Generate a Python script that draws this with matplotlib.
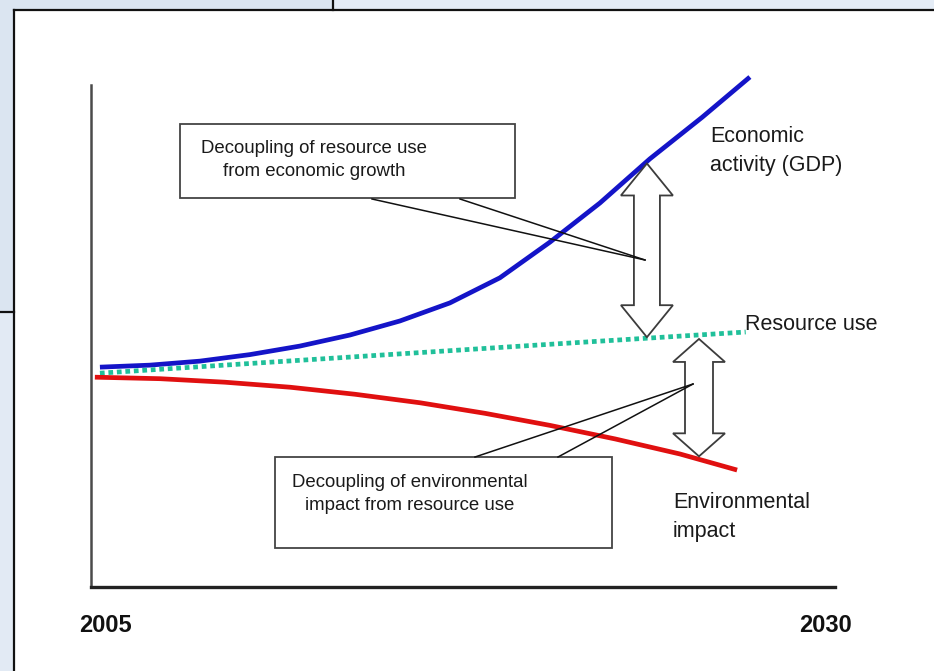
import numpy as np
import matplotlib
matplotlib.use("Agg")
import matplotlib.pyplot as plt
from matplotlib.patches import Rectangle, Polygon
from matplotlib.lines import Line2D

# ---------------- data ----------------
gdp_years = [2005.30, 2006.98, 2008.66, 2010.34, 2012.02, 2013.70, 2015.38,
             2017.06, 2018.74, 2020.42, 2022.10, 2023.78, 2025.54, 2027.14]
gdp_values = [43.8, 44.2, 45.0, 46.3, 48.0, 50.2, 53.0,
              56.6, 61.6, 68.7, 76.5, 85.3, 93.6, 101.6]

res_years = [2005.3, 2010, 2015, 2020, 2027]
res_values = [42.6, 44.4, 46.3, 48.2, 50.8]

env_years = [2005.13, 2007.32, 2009.50, 2011.69, 2013.87, 2016.06,
             2018.24, 2020.42, 2022.61, 2024.79, 2026.71]
env_values = [41.8, 41.5, 40.8, 39.8, 38.4, 36.7,
              34.6, 32.2, 29.5, 26.5, 23.3]

x_tick_labels = ["2005", "2030"]
arrow_years = [2023.68, 2025.43]

series_labels = ["Economic\nactivity (GDP)", "Resource use", "Environmental\nimpact"]
callout_texts = ["Decoupling of resource use\nfrom economic growth",
                 "Decoupling of environmental\nimpact from resource use"]

# ---------------- figure ----------------
W, H = 934, 671
fig = plt.figure(figsize=(W / 100, H / 100), dpi=100)
fig.patch.set_facecolor("white")

def fx(x):
    return x / W

def fy(y):
    return 1 - y / H

FONT = ["Liberation Sans", "DejaVu Sans"]

# frame decorations
fig.add_artist(Rectangle((0, fy(H)), fx(14), fy(312) - fy(H), transform=fig.transFigure,
                         facecolor="#e2eaf4", edgecolor="none", zorder=0))
fig.add_artist(Rectangle((0, fy(312)), fx(14), 1 - fy(312), transform=fig.transFigure,
                         facecolor="#dbe5f1", edgecolor="none", zorder=0))
fig.add_artist(Rectangle((0, fy(10)), fx(333), 1 - fy(10), transform=fig.transFigure,
                         facecolor="#dbe5f1", edgecolor="none", zorder=0))
fig.add_artist(Rectangle((fx(333), fy(10)), 1 - fx(333), 1 - fy(10), transform=fig.transFigure,
                         facecolor="#e4ecf6", edgecolor="none", zorder=0))
for (x0, y0, x1, y1) in [(14, 10, W, 10), (14, 10, 14, H), (333, 0, 333, 10), (0, 312, 14, 312)]:
    fig.add_artist(Line2D([fx(x0), fx(x1)], [fy(y0), fy(y1)], transform=fig.transFigure,
                          color="#111111", lw=1.6, zorder=1))

# main axes: x 91..835 px, y 587..70 px
ax = fig.add_axes([fx(91), fy(587), fx(835) - fx(91), fy(70) - fy(587)])
ax.set_xlim(2005, 2030)
ax.set_ylim(0, 103)
ax.patch.set_alpha(0)
for s in ["top", "right"]:
    ax.spines[s].set_visible(False)
ax.spines["left"].set_bounds(0, 100)
ax.spines["left"].set_color("#4a4a4a")
ax.spines["left"].set_linewidth(1.8)
ax.spines["bottom"].set_color("#222222")
ax.spines["bottom"].set_linewidth(2.4)
ax.set_xticks([])
ax.set_yticks([])

# curves
ax.plot(gdp_years, gdp_values, color="#1414c8", lw=3.4, solid_capstyle="butt",
        solid_joinstyle="round", zorder=4)
ax.plot(res_years, res_values, color="#20c09a", lw=3.4, linestyle=(0, (1.0, 0.8)),
        dash_capstyle="butt", zorder=4)
ax.plot(env_years, env_values, color="#e01010", lw=3.4, solid_capstyle="butt",
        solid_joinstyle="round", zorder=4)

# hollow double arrows
def double_arrow(x, y_low, y_high, hw, sw, hl):
    pts = [(x, y_high), (x + hw, y_high - hl), (x + sw, y_high - hl), (x + sw, y_low + hl),
           (x + hw, y_low + hl), (x, y_low), (x - hw, y_low + hl), (x - sw, y_low + hl),
           (x - sw, y_high - hl), (x - hw, y_high - hl)]
    ax.add_patch(Polygon(pts, closed=True, facecolor="white", edgecolor="#3c3c3c",
                         lw=1.3, zorder=5))

px_per_year = 744 / 25.0
px_per_unit = 517 / 103.0
a1 = arrow_years[0]
double_arrow(a1, np.interp(a1, res_years, res_values) + 0.2,
             np.interp(a1, gdp_years, gdp_values) - 0.4,
             26 / px_per_year, 13 / px_per_year, 32 / px_per_unit)
a2 = arrow_years[1]
double_arrow(a2, np.interp(a2, env_years, env_values) + 0.6,
             np.interp(a2, res_years, res_values) - 0.8,
             26 / px_per_year, 14 / px_per_year, 23 / px_per_unit)

# callout boxes
for (x0, y0, x1, y1) in [(180, 124, 515, 198), (275, 457, 612, 548)]:
    fig.add_artist(Rectangle((fx(x0), fy(y1)), fx(x1) - fx(x0), fy(y0) - fy(y1),
                             transform=fig.transFigure, facecolor="white",
                             edgecolor="#444444", lw=1.3, zorder=6))
for (x0, y0, x1, y1) in [(372, 199, 645, 260), (460, 199, 645, 260),
                         (475, 457, 693, 384), (558, 457, 693, 384)]:
    fig.add_artist(Line2D([fx(x0), fx(x1)], [fy(y0), fy(y1)], transform=fig.transFigure,
                          color="#111111", lw=1.1, zorder=7))

fig.text(fx(314), fy(160), callout_texts[0], ha="center", va="center", multialignment="center",
         fontsize=13.4, family=FONT, color="#1a1a1a", linespacing=1.45, zorder=8)
fig.text(fx(410), fy(494), callout_texts[1], ha="center", va="center", multialignment="center",
         fontsize=13.4, family=FONT, color="#1a1a1a", linespacing=1.45, zorder=8)

# series labels
fig.text(fx(710), fy(151), series_labels[0], ha="left", va="center", fontsize=15.5,
         family=FONT, color="#1a1a1a", linespacing=1.45)
fig.text(fx(745), fy(325), series_labels[1], ha="left", va="center", fontsize=15.5,
         family=FONT, color="#1a1a1a")
fig.text(fx(673), fy(517), series_labels[2], ha="left", va="center", fontsize=15.5,
         family=FONT, color="#1a1a1a", linespacing=1.45)

# year labels
fig.text(fx(105), fy(625), x_tick_labels[0], ha="center", va="center", fontsize=17,
         family=FONT, fontweight="bold", color="#111111")
fig.text(fx(825), fy(625), x_tick_labels[1], ha="center", va="center", fontsize=17,
         family=FONT, fontweight="bold", color="#111111")

fig.savefig("out.png", dpi=100, facecolor=fig.get_facecolor())
